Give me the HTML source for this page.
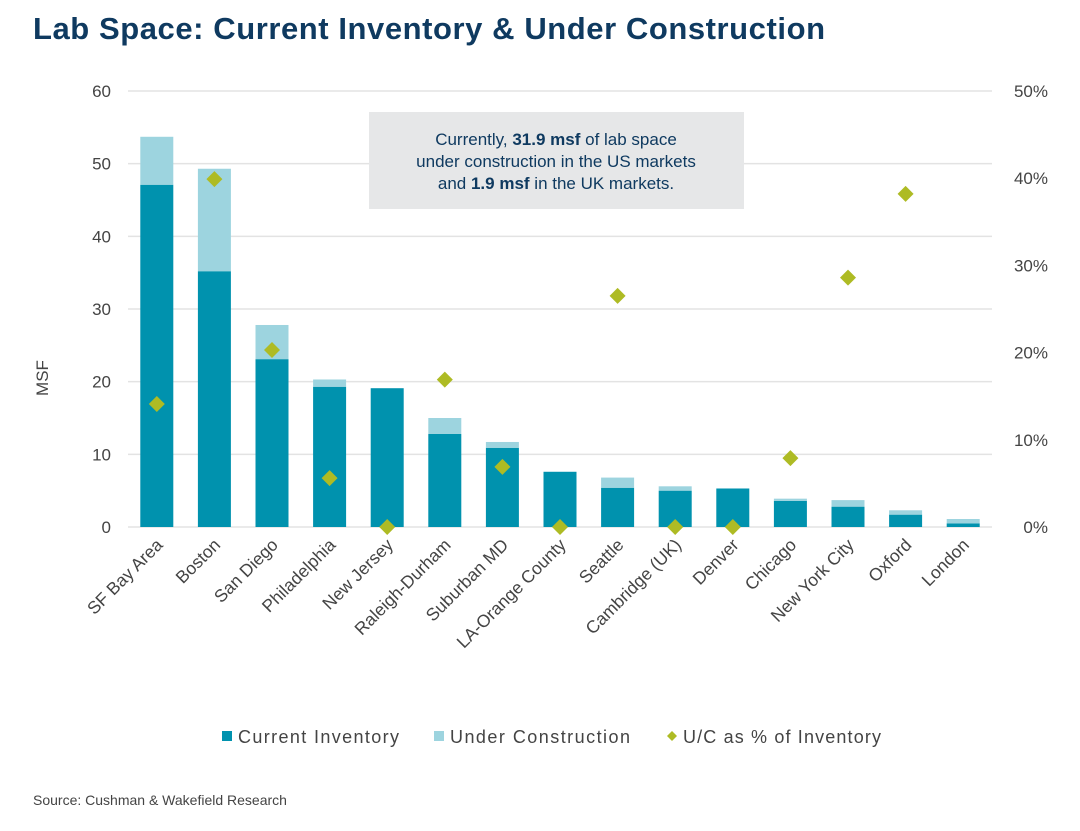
<!DOCTYPE html>
<html><head><meta charset="utf-8"><style>
body{margin:0;background:#fff;width:1080px;height:826px;overflow:hidden;font-family:"Liberation Sans",sans-serif}
</style></head><body>
<svg width="1080" height="826" xmlns="http://www.w3.org/2000/svg">
<text x="33" y="39" font-size="31" font-weight="bold" fill="#0f3a60" textLength="792">Lab Space: Current Inventory &amp; Under Construction</text>
<g id="grid"></g><g id="bars"></g><g id="pts"></g><g id="xl"></g>
<text transform="translate(48,378) rotate(-90)" font-size="17" fill="#444" text-anchor="middle">MSF</text>
<rect x="369" y="112" width="375" height="97" fill="#e6e7e8"/>
<g font-size="17" fill="#0f3a60" text-anchor="middle">
<text x="556" y="145">Currently, <tspan font-weight="bold">31.9 msf</tspan> of lab space</text>
<text x="556" y="167">under construction in the US markets</text>
<text x="556" y="189">and <tspan font-weight="bold">1.9 msf</tspan> in the UK markets.</text>
</g>
<g font-size="18" fill="#444">
<rect x="222" y="731" width="10" height="10" fill="#0092ae"/>
<text x="238" y="743" textLength="161">Current Inventory</text>
<rect x="434" y="731" width="10" height="10" fill="#9dd4df"/>
<text x="450" y="743" textLength="180">Under Construction</text>
<path d="M672,731 l5,5 l-5,5 l-5,-5z" fill="#aebb24"/>
<text x="683" y="743" textLength="198">U/C as % of Inventory</text>
</g>
<text x="33" y="805" font-size="14" fill="#444">Source: Cushman &amp; Wakefield Research</text>
</svg>
<script>
const categories=["SF Bay Area","Boston","San Diego","Philadelphia","New Jersey","Raleigh-Durham","Suburban MD","LA-Orange County","Seattle","Cambridge (UK)","Denver","Chicago","New York City","Oxford","London"];
const inventory=[47.1,35.2,23.1,19.3,19.1,12.8,10.9,7.6,5.4,5.0,5.3,3.6,2.8,1.7,0.5];
const underConstruction=[6.6,14.1,4.7,1.0,0,2.2,0.8,0,1.4,0.6,0,0.3,0.9,0.6,0.6];
const ucPct=[14.1,39.9,20.3,5.6,0,16.9,6.9,0,26.5,0,0,7.9,28.6,38.2,null];
const leftTicks=[0,10,20,30,40,50,60];
const rightTicks=[0,10,20,30,40,50];
const NS="http://www.w3.org/2000/svg";
const x0=128,x1=992,y0=527,yTop=91;
const yL=v=>y0-(v/60)*(y0-yTop);
const yR=v=>y0-(v/50)*(y0-yTop);
const step=(x1-x0)/categories.length;
const xC=i=>x0+step*(i+0.5);
function mk(t,a,p){const e=document.createElementNS(NS,t);for(const k in a)e.setAttribute(k,a[k]);p.appendChild(e);return e;}
const G=document.getElementById('grid'),B=document.getElementById('bars'),P=document.getElementById('pts'),X=document.getElementById('xl');
leftTicks.forEach(v=>{
const l=mk('line',{x1:x0,x2:x1,y1:yL(v),y2:yL(v),stroke:'#e3e3e3','stroke-width':1.5},G);


const t=mk('text',{x:111,y:yL(v)+6,'text-anchor':'end','font-size':17,fill:'#444'},G);t.textContent=v;


});
rightTicks.forEach(v=>{
const t=mk('text',{x:1048,y:yR(v)+6,'text-anchor':'end','font-size':17,fill:'#444'},G);t.textContent=v+'%';


});
categories.forEach((c,i)=>{
const w=33,bx=xC(i)-w/2;
const r1=mk('rect',{x:bx,y:yL(inventory[i]),width:w,height:y0-yL(inventory[i]),fill:'#0092ae'},B);


const tot=inventory[i]+underConstruction[i];
const r2=mk('rect',{x:bx,y:yL(tot),width:w,height:yL(inventory[i])-yL(tot),fill:'#9dd4df'},B);


if(ucPct[i]!==null){const cx=xC(i),cy=yR(ucPct[i]);
const d=mk('path',{d:`M${cx},${cy-8} L${cx+8},${cy} L${cx},${cy+8} L${cx-8},${cy}Z`,fill:'#aebb24'},P);

}
const t=mk('text',{transform:`translate(${xC(i)+7},${y0+19}) rotate(-45)`,'text-anchor':'end','font-size':17.5,fill:'#444'},X);t.textContent=c;


});
</script>
</body></html>
